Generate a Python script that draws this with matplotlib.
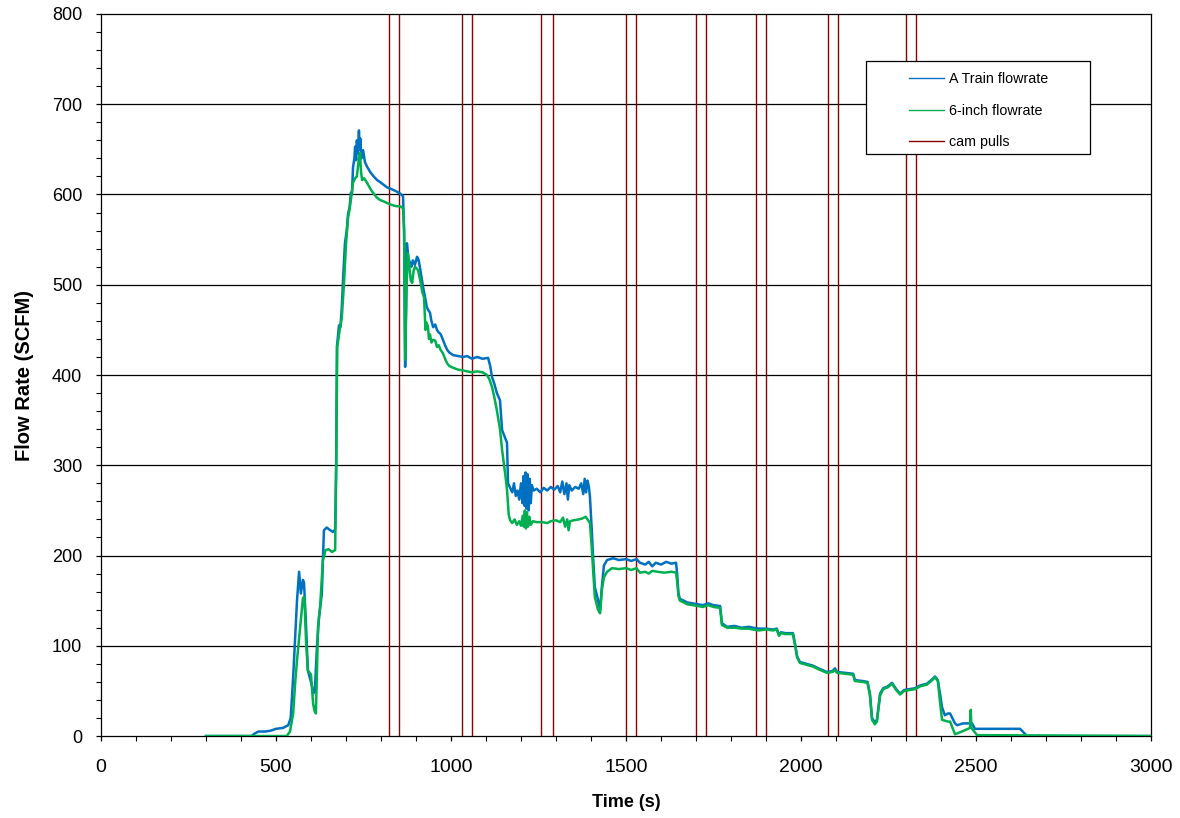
import matplotlib
matplotlib.use("Agg")
import matplotlib.pyplot as plt
from matplotlib.patches import Rectangle
from matplotlib.lines import Line2D
from matplotlib.ticker import MultipleLocator

plt.rcParams['font.family'] = ['Liberation Sans', 'DejaVu Sans']

# A Train flowrate (time in s, flow in SCFM)
a_train_t = [300, 430, 440, 450, 470, 485, 500, 520, 535, 542, 549, 554, 560, 566, 571, 577, 580, 586, 591, 603,
             606, 611, 617, 623, 631, 634, 637, 645, 655, 663, 669, 672, 674, 680, 684, 688, 692, 697, 702, 706,
             710, 714, 717, 720, 724, 726, 729, 731, 734, 737, 739, 741, 744, 749, 754, 760, 769, 779, 789, 800,
             817, 830, 846, 855, 863, 866, 869, 872, 874, 878, 883, 887, 891, 897, 903, 907, 911, 915, 920, 925,
             931, 935, 940, 944, 949, 955, 960, 965, 969, 973, 977, 983, 989, 995, 1006, 1020, 1035, 1046, 1060, 1075,
             1090, 1106, 1112, 1117, 1124, 1131, 1140, 1146, 1155, 1160, 1163, 1169,
             1175, 1180, 1185, 1190, 1195, 1200, 1204, 1207, 1210, 1213, 1216, 1219, 1222, 1225, 1228, 1231, 1236, 1245,
             1255, 1265, 1275, 1285, 1295, 1305, 1312, 1318, 1324, 1330, 1334, 1338, 1345, 1355, 1365, 1372, 1378, 1382,
             1386, 1390, 1394, 1397, 1402, 1406, 1411, 1420, 1426, 1431, 1437, 1446, 1463, 1480, 1500, 1515, 1530, 1540,
             1555, 1565, 1575, 1585, 1600, 1615, 1630, 1643, 1646, 1650, 1654, 1665, 1675, 1691, 1705, 1720, 1735, 1750,
             1769, 1774, 1789, 1810, 1830, 1850, 1863, 1880, 1900, 1920, 1931, 1937, 1943, 1955, 1977, 1984, 1989, 1997,
             2015, 2034, 2050, 2074, 2090, 2097, 2103, 2125, 2149, 2154, 2175, 2190, 2197, 2203, 2211, 2217, 2226, 2235,
             2248, 2260, 2272, 2283, 2295, 2310, 2326, 2340, 2360, 2375, 2383, 2391, 2398, 2403, 2411, 2420, 2426, 2440,
             2446, 2463, 2475, 2489, 2497, 2626, 2646, 3000]
a_train_q = [0, 0, 3, 5, 5, 6, 8, 9, 12, 20, 65, 103, 150, 182, 158, 173, 170, 121, 73, 55,
             47, 50, 99, 132, 158, 195, 228, 231, 228, 226, 229, 300, 431, 455, 453, 475, 509, 546, 560, 579,
             585, 602, 600, 630, 640, 653, 638, 660, 645, 671, 650, 662, 640, 649, 636, 631, 625, 620, 616, 613,
             608, 606, 603, 601, 598, 560, 409, 480, 546, 530, 524, 520, 527, 522, 531, 528, 520, 510, 498, 488,
             475, 472, 469, 460, 453, 456, 450, 447, 446, 443, 439, 433, 428, 425, 422, 421, 420, 421, 418, 420,
             418, 419, 410, 398, 390, 380, 372, 339, 330, 325, 280, 275,
             270, 280, 266, 272, 262, 280, 258, 288, 255, 292, 252, 290, 250, 285, 258, 278, 272, 274,
             270, 275, 272, 276, 273, 277, 270, 282, 268, 280, 262, 278, 272, 276, 274, 280, 268, 285,
             270, 283, 276, 265, 230, 198, 165, 151, 140, 165, 189, 195, 197, 195, 196, 194, 196, 192,
             190, 193, 188, 192, 190, 193, 191, 192, 180, 158, 152, 150, 148, 147, 146, 145, 147, 145,
             144, 125, 121, 122, 120, 121, 120, 119, 119, 118, 119, 112, 115, 114, 114, 100, 88, 82,
             80, 78, 75, 71, 72, 75, 71, 70, 69, 62, 61, 60, 47, 20, 15, 18, 47, 53,
             55, 59, 52, 47, 51, 52, 53, 56, 58, 63, 66, 62, 45, 32, 23, 25, 25, 14,
             12, 14, 14, 14, 8, 8, 0, 0]

# 6-inch flowrate (time in s, flow in SCFM)
six_inch_t = [300, 531, 540, 549, 555, 560, 569, 577, 581, 586, 591, 600, 606, 610, 614, 617, 620, 626, 634, 638,
              641, 650, 660, 669, 672, 675, 682, 688, 694, 700, 706, 710, 716, 720, 726, 731, 734, 737, 740, 743,
              746, 752, 760, 770, 777, 787, 797, 810, 820, 834, 845, 854, 863, 866, 869, 873, 877, 881, 885, 889,
              893, 897, 902, 906, 912, 918, 923, 927, 930, 934, 937, 940, 944, 949, 955, 960, 965, 970, 977, 983,
              989, 995, 1006, 1020, 1035, 1046, 1060, 1075, 1090, 1103, 1110, 1117, 1124, 1131, 1140, 1146, 1155, 1160,
              1165, 1169,
              1175, 1182, 1188, 1195, 1200, 1205, 1208, 1211, 1214, 1217, 1220, 1224, 1228, 1234, 1245, 1260, 1275, 1285,
              1300, 1312, 1320, 1326, 1332, 1336, 1340, 1350, 1365, 1375, 1385, 1392, 1397, 1402, 1406, 1411, 1420, 1426,
              1431, 1437, 1446, 1460, 1480, 1500, 1515, 1530, 1540, 1555, 1565, 1575, 1590, 1610, 1630, 1643, 1646, 1650,
              1654, 1665, 1675, 1691, 1705, 1720, 1735, 1750, 1769, 1774, 1789, 1810, 1830, 1850, 1863, 1880, 1900, 1920,
              1931, 1937, 1943, 1955, 1977, 1984, 1989, 1997, 2015, 2034, 2050, 2074, 2090, 2097, 2103, 2125, 2149, 2154,
              2175, 2190, 2197, 2203, 2211, 2217, 2226, 2235, 2248, 2260, 2272, 2283, 2295, 2310, 2326, 2340, 2360, 2375,
              2383, 2391, 2398, 2403, 2420, 2426, 2440, 2460, 2483, 2485, 2487, 2503, 3000]
six_inch_q = [0, 0, 5, 25, 60, 84, 121, 153, 154, 103, 73, 68, 36, 28, 25, 70, 121, 143, 195, 200,
              206, 207, 204, 206, 300, 431, 450, 463, 500, 545, 575, 583, 600, 613, 618, 620, 630, 640, 646, 625,
              616, 618, 613, 606, 602, 597, 594, 592, 590, 588, 587, 587, 585, 560, 417, 500, 535, 520, 505, 502,
              515, 520, 518, 516, 505, 492, 486, 450, 458, 454, 440, 445, 436, 439, 438, 431, 433, 428, 424, 418,
              413, 410, 408, 406, 405, 404, 403, 404, 403, 400, 395, 387, 375, 361, 340, 317, 290, 273,
              245, 239,
              236, 240, 234, 238, 233, 244, 232, 250, 230, 248, 232, 243, 234, 238, 237, 237, 236, 238,
              239, 237, 242, 232, 240, 228, 238, 239, 240, 241, 243, 239, 236, 210, 184, 154, 140, 136,
              162, 176, 182, 186, 185, 186, 184, 186, 181, 182, 180, 183, 182, 181, 182, 181, 172, 155,
              150, 148, 146, 145, 144, 143, 145, 143, 142, 123, 120, 120, 119, 119, 118, 117, 118, 117,
              118, 111, 114, 113, 113, 99, 87, 81, 79, 77, 74, 70, 71, 73, 70, 69, 68, 61,
              60, 59, 45, 18, 13, 16, 45, 52, 54, 58, 51, 46, 50, 51, 52, 55, 57, 62,
              65, 61, 35, 18, 16, 16, 2, 5, 9, 29, 9, 1, 0]

# Times of the cam pulls (s)
cam_pull_t = [823, 851, 1031, 1060, 1258, 1291, 1500, 1529, 1700, 1729, 1871, 1900, 2078, 2106, 2300, 2329]

x_ticks = [0, 500, 1000, 1500, 2000, 2500, 3000]
y_ticks = [0, 100, 200, 300, 400, 500, 600, 700, 800]

fig = plt.figure(figsize=(11.8, 8.18), dpi=100)
ax = fig.add_axes([0.0856, 0.1002, 0.8898, 0.8827])

for y in y_ticks[1:-1]:
    ax.axhline(y, color='black', lw=0.9, zorder=1)

for t in cam_pull_t:
    ax.axvline(t, color='#8B0000', lw=1.0, zorder=2)

ax.plot(a_train_t, a_train_q, color='#0070C0', lw=1.8, zorder=3)
ax.plot(six_inch_t, six_inch_q, color='#00B050', lw=1.8, zorder=4)

ax.set_xlim(0, 3000)
ax.set_ylim(0, 800)
ax.set_xticks(x_ticks)
ax.set_yticks(y_ticks)
ax.xaxis.set_minor_locator(MultipleLocator(100))
ax.yaxis.set_minor_locator(MultipleLocator(20))
ax.tick_params(axis='both', which='major', direction='out', length=3.6, width=0.9, colors='black')
ax.tick_params(axis='both', which='minor', direction='out', length=3.6, width=0.8)
ax.tick_params(axis='x', which='major', labelsize=14, pad=13)
ax.tick_params(axis='y', which='major', labelsize=13, pad=10)
for sp in ax.spines.values():
    sp.set_color('black')
    sp.set_linewidth(0.9)

ax.set_xlabel('Time (s)', fontsize=13, fontweight='bold', labelpad=13)
ax.set_ylabel('Flow Rate (SCFM)', fontsize=14.5, fontweight='bold', labelpad=13)

# Legend box with a white face so the grid and cam lines stop at its edge
box = Rectangle((0.7286, 0.806), 0.2133, 0.1289, transform=ax.transAxes,
                facecolor='white', edgecolor='black', lw=0.9, zorder=5)
ax.add_patch(box)
leg_handles = [Line2D([], [], color='#0070C0', lw=1.0),
               Line2D([], [], color='#00B050', lw=1.0),
               Line2D([], [], color='#8B0000', lw=1.0)]
leg_labels = ['A Train flowrate', '6-inch flowrate', 'cam pulls']
leg = ax.legend(leg_handles, leg_labels, loc='upper left',
                bbox_to_anchor=(0.7641, 0.9272), frameon=False, fontsize=10.3,
                handlelength=2.45, handletextpad=0.35, labelspacing=1.23,
                borderaxespad=0.0, borderpad=0.4)
leg.set_zorder(6)

fig.savefig('out.png', dpi=100)
